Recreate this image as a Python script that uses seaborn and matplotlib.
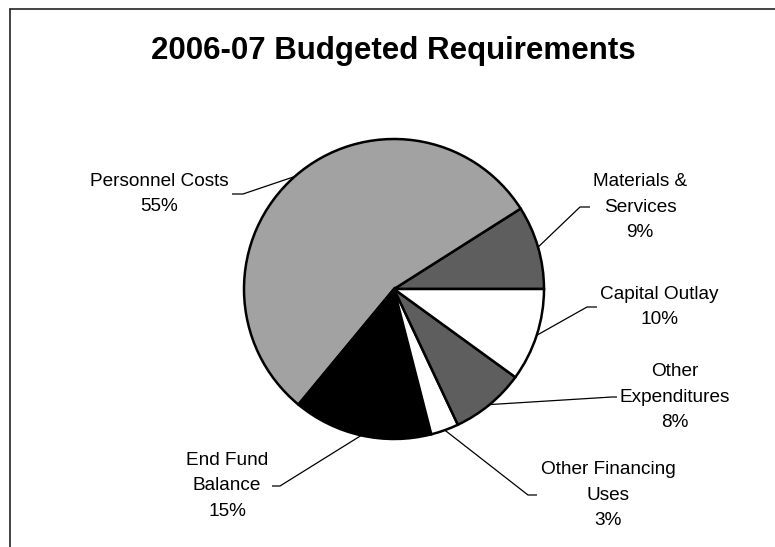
import numpy as np
import matplotlib
matplotlib.use("Agg")
import matplotlib.pyplot as plt
import seaborn as sns

# Budget shares, listed counter-clockwise starting at 3 o'clock
categories = ["Materials &\nServices", "Personnel Costs", "End Fund\nBalance",
              "Other Financing\nUses", "Other\nExpenditures", "Capital Outlay"]
shares = [9, 55, 15, 3, 8, 10]
fills = ["#5e5e5e", "#a2a2a2", "#000000", "#ffffff", "#5e5e5e", "#ffffff"]

# Label layout in pixels (block centre, stub start x, stub elbow x)
label_pos = [(640, 207), (159, 194), (227, 486), (608, 495), (675, 397), (659, 307)]
stub_x = [(590, 580), (232, 243), (272, 280), (537, 528), (617, 612), (597, 587)]

W, H = 775, 547
sns.set_theme(style="white")
plt.rcParams["font.family"] = ["Liberation Sans", "DejaVu Sans"]

fig = plt.figure(figsize=(W / 100, H / 100), dpi=100)
ax = fig.add_axes([0, 0, 1, 1])

cx, cy, R = 394, 289, 150


def fy(py):
    return H - py


wedges, _ = ax.pie(shares, colors=fills, startangle=0, counterclock=True,
                   radius=R, center=(cx, fy(cy)),
                   wedgeprops=dict(edgecolor="black", linewidth=1.8))

for w, name, pct, (tx, ty), (sx0, sx1) in zip(wedges, categories, shares,
                                               label_pos, stub_x):
    mid = np.deg2rad((w.theta1 + w.theta2) / 2)
    ex = cx + R * np.cos(mid)
    ey = fy(cy) + R * np.sin(mid)
    ax.plot([sx0, sx1, ex], [fy(ty), fy(ty), ey], color="black", lw=0.9,
            solid_capstyle="butt", zorder=1)
    ax.text(tx, fy(ty), f"{name}\n{pct}%", ha="center", va="center",
            multialignment="center", fontsize=13.7, linespacing=1.65,
            color="black")

ax.text(393.5, fy(59), "2006-07 Budgeted Requirements", ha="center",
        va="baseline", fontsize=22.5, fontweight="bold", color="black")

# Frame lines along the top and left sides
ax.plot([10, W], [fy(9), fy(9)], color="#222222", lw=1.2)
ax.plot([10, 10], [fy(9), 0], color="#222222", lw=1.2)

ax.set_xlim(0, W)
ax.set_ylim(0, H)
ax.set_aspect("equal")
ax.axis("off")

fig.savefig("out.png", dpi=100)
